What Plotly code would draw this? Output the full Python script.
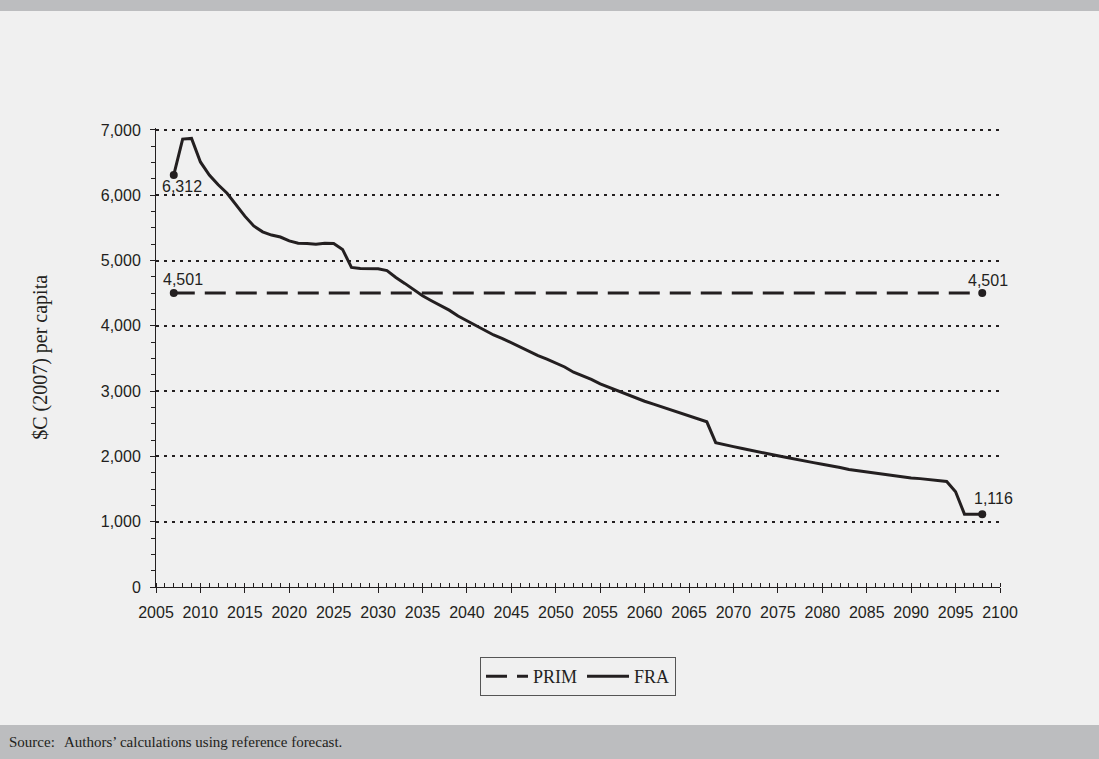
import plotly.graph_objects as go

# ---- data ----
fra_years = list(range(2007, 2099))
fra_values = [
    6312, 6860, 6870, 6510, 6310, 6160, 6030, 5850, 5680, 5530,
    5440, 5390, 5360, 5300, 5265, 5260, 5250, 5265, 5260, 5170,
    4895, 4880, 4880, 4875, 4845, 4740, 4650, 4560, 4460, 4385,
    4310, 4240, 4150, 4080, 4010, 3930, 3860, 3805, 3740, 3670,
    3600, 3545, 3490, 3435, 3370, 3290, 3240, 3180, 3110, 3055,
    3000, 2950, 2900, 2845, 2800, 2755, 2710, 2665, 2620, 2575,
    2530, 2210, 2175, 2150, 2120, 2090, 2060, 2035, 2010, 1985,
    1955, 1930, 1905, 1880, 1860, 1830, 1800, 1780, 1760, 1745,
    1720, 1700, 1685, 1670, 1660, 1645, 1630, 1615, 1460, 1116,
    1116, 1116,
]
prim_years = [2007, 2098]
prim_values = [4501, 4501]

y_tick_vals = [0, 1000, 2000, 3000, 4000, 5000, 6000, 7000]
x_tick_vals = list(range(2005, 2101, 5))

INK = "#231f20"
BG = "#f0f0f0"
BAND = "#bcbdbf"
SANS = "Liberation Sans, Arial, sans-serif"
SERIF = "Liberation Serif, Times New Roman, serif"

fig = go.Figure()

fig.add_trace(go.Scatter(
    x=prim_years, y=prim_values, mode="lines", name="PRIM",
    line=dict(color=INK, width=3, dash="21px,10px"),
))
fig.add_trace(go.Scatter(
    x=fra_years, y=fra_values, mode="lines", name="FRA",
    line=dict(color=INK, width=3),
))
# endpoint markers
fig.add_trace(go.Scatter(
    x=[prim_years[0], prim_years[-1], fra_years[0], fra_years[-1]],
    y=[prim_values[0], prim_values[-1], fra_values[0], fra_values[-1]],
    mode="markers", marker=dict(color=INK, size=8), showlegend=False,
    hoverinfo="skip",
))

def lab(x, y, xs, ys):
    fig.add_annotation(x=x, y=y, xref="x", yref="y", text=f"{y:,}",
                       showarrow=False, xshift=xs, yshift=ys,
                       font=dict(family=SANS, size=16, color=INK))

lab(fra_years[0], fra_values[0], 8, -12)
lab(prim_years[0], prim_values[0], 9, 14)
lab(prim_years[-1], prim_values[-1], 6, 13)
lab(fra_years[-1], fra_values[-1], 11, 16)

# y-axis title
fig.add_annotation(x=-0.137, y=0.5, xref="paper", yref="paper",
                   xanchor="center", yanchor="middle",
                   text="$C (2007) per capita", textangle=-90, showarrow=False,
                   font=dict(family=SERIF, size=20, color=INK))

# grey bands (top and bottom)
fig.add_shape(type="rect", xref="paper", yref="paper",
              x0=-0.19, x1=1.12, y0=1.2549, y1=1.30,
              fillcolor=BAND, line=dict(width=0), layer="below")
fig.add_shape(type="rect", xref="paper", yref="paper",
              x0=-0.19, x1=1.12, y0=-0.40, y1=-0.3007,
              fillcolor=BAND, line=dict(width=0), layer="below")
fig.add_annotation(x=-0.176, y=-0.3377, xref="paper", yref="paper",
                   text="Source:", showarrow=False, xanchor="left",
                   yanchor="middle",
                   font=dict(family=SERIF, size=15, color=INK))
fig.add_annotation(x=-0.1109, y=-0.3377, xref="paper", yref="paper",
                   text="Authors\u2019 calculations using reference forecast.",
                   showarrow=False, xanchor="left", yanchor="middle",
                   font=dict(family=SERIF, size=15, color=INK))

fig.update_layout(
    width=1099, height=759,
    margin=dict(l=156, r=99, t=128, b=172),
    paper_bgcolor=BG, plot_bgcolor=BG,
    showlegend=True,
    legend=dict(orientation="h", x=0.5, xanchor="center", y=-0.1525,
                yanchor="top", bordercolor="#555555", borderwidth=1,
                bgcolor="rgba(0,0,0,0)", itemwidth=42,
                font=dict(family=SERIF, size=18, color=INK)),
    xaxis=dict(range=[2005, 2100], tickvals=x_tick_vals,
               showgrid=False, zeroline=False, showline=True,
               linecolor=INK, linewidth=1, ticks="outside", ticklen=5,
               tickcolor=INK,
               minor=dict(dtick=1, ticks="inside", ticklen=4, tickcolor=INK,
                          showgrid=False),
               tickfont=dict(family=SANS, size=16, color=INK),
               ticklabelstandoff=6),
    yaxis=dict(range=[0, 7030], tickvals=y_tick_vals, tickformat=",",
               showgrid=True, gridcolor=INK, gridwidth=2,
               griddash="3px,5px",
               zeroline=False, showline=True, linecolor=INK, linewidth=1,
               ticks="outside", ticklen=5, tickcolor=INK,
               minor=dict(dtick=250, ticks="outside", ticklen=4,
                          tickcolor=INK, showgrid=False),
               tickfont=dict(family=SANS, size=16, color=INK),
               ticklabelstandoff=6),
)

fig.write_html("out.html")
